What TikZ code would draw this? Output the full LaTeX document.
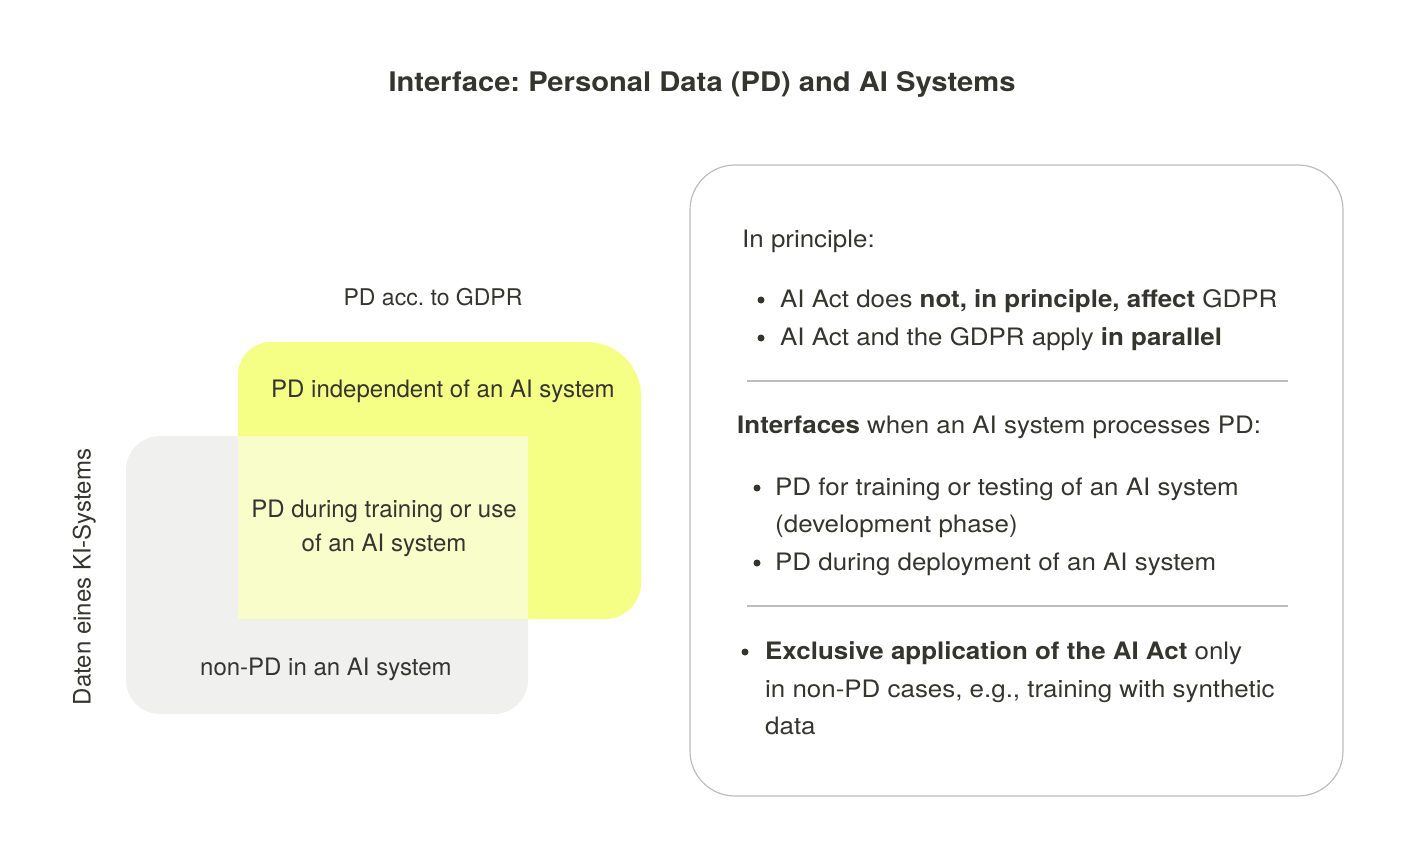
\documentclass[tikz,border=0pt]{standalone}
\usepackage{fontspec}
\setmainfont{TeX Gyre Heros}
\newfontfamily\widefont{TeX Gyre Heros}[FakeStretch=1.08]
\definecolor{txt}{HTML}{35352F}
\definecolor{ylw}{HTML}{F5FF85}
\definecolor{ovl}{HTML}{F8FDC9}
\definecolor{gry}{HTML}{F0F0EE}
\definecolor{frame}{HTML}{BDBDBD}
\begin{document}
\frenchspacing
\begin{tikzpicture}[x=1pt,y=-1pt,
  lbl/.style={inner sep=0pt,text=txt,font=\fontsize{24}{28}\selectfont},
  rlbl/.style={inner sep=0pt,text=txt,font=\widefont\fontsize{24}{28}\selectfont},
  ttl/.style={inner sep=0pt,text=txt,font=\widefont\fontsize{27}{32}\selectfont\bfseries},
  dot/.style={circle,fill=txt,inner sep=0pt,minimum size=7pt},
  sep/.style={draw=frame,line width=1.2pt}]
\useasboundingbox (0,0) rectangle (1408,861);
% Venn-like boxes
\fill[gry] (126,470) -- (126,680) arc[start angle=180,end angle=270,x radius=34,y radius=-34] -- (494,714) arc[start angle=270,end angle=360,x radius=34,y radius=-34] -- (528,436) -- (160,436) arc[start angle=90,end angle=180,x radius=34,y radius=-34] -- cycle;
\fill[ylw] (238,619) -- (238,375) arc[start angle=180,end angle=90,x radius=33,y radius=-33] -- (587,342) arc[start angle=90,end angle=0,x radius=54,y radius=-54] -- (641,583) arc[start angle=0,end angle=-90,x radius=36,y radius=-36] -- cycle;
\fill[ovl] (238,436) rectangle (528,619);
% Right frame
\draw[frame,line width=1.2pt,rounded corners=45pt] (690,165) rectangle (1343,796);
\draw[sep] (747,381) coordinate (s1a) -- (1288,381) coordinate (s1b);
\draw[sep] (747,606) coordinate (s2a) -- (1288,606) coordinate (s2b);
% Title
\node[ttl,anchor=mid] (title) at (702,89) {Interface: Personal Data (PD) and AI Systems};
% Left labels
\node[lbl,anchor=mid,font=\fontsize{23}{27}\selectfont] (gdpr) at (433,303) {PD acc. to GDPR};
\node[lbl,anchor=mid west] (indep) at (271,395) {PD independent of an AI system};
\node[lbl,anchor=mid,align=center] (during1) at (384,515) {PD during training or use};
\node[lbl,anchor=mid,align=center] (during2) at (384,549) {of an AI system};
\node[lbl,anchor=mid west] (nonpd) at (200,673) {non-PD in an AI system};
\node[lbl,anchor=mid,rotate=90] (daten) at (88,577) {Daten eines KI-Systems};
% Right text
\node[rlbl,anchor=mid west] (prin) at (742,245) {In principle:};
\node[dot] (d1) at (761,300) {};
\node[rlbl,anchor=mid west] (b1) at (780,305) {AI Act does \textbf{not, in principle, affect} GDPR};
\node[dot] (d2) at (761,338) {};
\node[rlbl,anchor=mid west] (b2) at (780,343) {AI Act and the GDPR apply \textbf{in parallel}};
\node[rlbl,anchor=mid west] (intf) at (737,431) {\textbf{Interfaces} when an AI system processes PD:};
\node[dot] (d3) at (757,488) {};
\node[rlbl,anchor=mid west] (b3) at (775,493) {PD for training or testing of an AI system};
\node[rlbl,anchor=mid west] (b3b) at (775,530) {(development phase)};
\node[dot] (d4) at (757,563) {};
\node[rlbl,anchor=mid west] (b4) at (775,568) {PD during deployment of an AI system};
\node[dot] (d5) at (745,652) {};
\node[rlbl,anchor=mid west] (b5) at (765,657) {\textbf{Exclusive application of the AI Act} only};
\node[rlbl,anchor=mid west] (b5b) at (765,695) {in non-PD cases, e.g., training with synthetic};
\node[rlbl,anchor=mid west] (b5c) at (765,732) {data};
\end{tikzpicture}
\end{document}
